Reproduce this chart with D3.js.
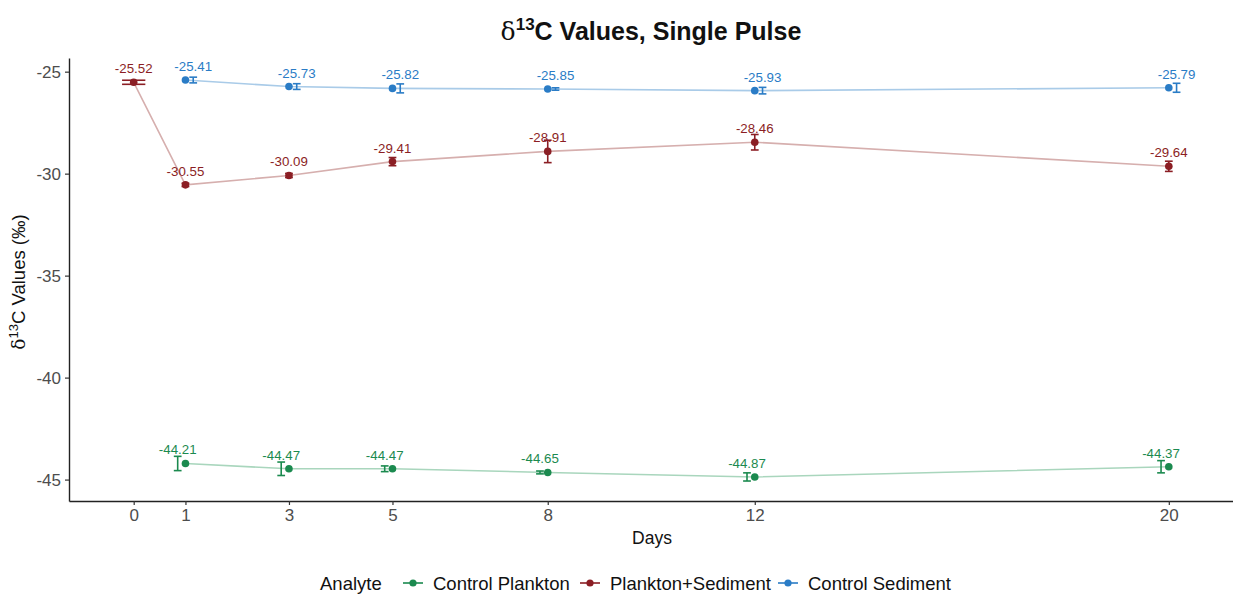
<!DOCTYPE html>
<html>
<head>
<meta charset="utf-8">
<script src="https://cdn.jsdelivr.net/npm/d3@7"></script>
<style>
  body { margin: 0; background: #fff; }
  svg { font-family: "Liberation Sans", Arial, sans-serif; }
</style>
</head>
<body>
<div id="chart"></div>
<script>
// Datos
const xTicks = [0, 1, 3, 5, 8, 12, 20]
const yTicks = [-25, -30, -35, -40, -45]

const analytes = ['Control Plankton', 'Plankton+Sediment', 'Control Sediment']

const plankton_days = [1, 3, 5, 8, 12, 20]
const plankton_mean = [-44.21, -44.47, -44.47, -44.65, -44.87, -44.37]
const plankton_sd = [0.35, 0.33, 0.14, 0.07, 0.2, 0.3]

const mix_days = [0, 1, 3, 5, 8, 12, 20]
const mix_mean = [-25.52, -30.55, -30.09, -29.41, -28.91, -28.46, -29.64]
const mix_sd = [0.1, 0.08, 0.1, 0.2, 0.55, 0.38, 0.25]

const sediment_days = [1, 3, 5, 8, 12, 20]
const sediment_mean = [-25.41, -25.73, -25.82, -25.85, -25.93, -25.79]
const sediment_sd = [0.14, 0.14, 0.22, 0.06, 0.16, 0.22]

const colors = { 'Control Plankton': '#1b8a4f', 'Plankton+Sediment': '#8b1e24', 'Control Sediment': '#2a7cc6' }
const lineColors = { 'Control Plankton': '#a9d6bd', 'Plankton+Sediment': '#d6afae', 'Control Sediment': '#a9cbe8' }

// Construye las series
const build = (name, days, mean, sd, group) => days.map((d, i) => ({ Name: name, Day: d, Mean: mean[i], Sd: sd[i], Group: group }))
const series = [
  build('Control Plankton', plankton_days, plankton_mean, plankton_sd, 0),
  build('Plankton+Sediment', mix_days, mix_mean, mix_sd, 1),
  build('Control Sediment', sediment_days, sediment_mean, sediment_sd, 2)
]

const width = 1233, height = 606
const svg = d3.select('#chart').append('svg').attr('width', width).attr('height', height)

const x = d3.scaleLinear().domain([-1.25, 21.25]).range([69, 1233.5])
const y = d3.scaleLinear().domain([-24.33, -46.05]).range([58, 501])

// Esquiva (dodge) de las barras de error: ancho total 0.45 días
const dodgeW = 0.45
const countAt = day => series.filter(s => s.some(d => d.Day == day)).length
const dodgeX = d => {
  const n = countAt(d.Day)
  if (n == 1) return x(d.Day)
  return x(d.Day + (d.Group - 1) * dodgeW / 3)
}
const capHalf = d => {
  const n = countAt(d.Day)
  return (x(dodgeW / n) - x(0)) / 2
}

// Ejes
const xAxis = svg.append('g')
  .attr('transform', `translate(0, ${y.range()[1]})`)
  .call(d3.axisBottom(x).tickValues(xTicks).tickSize(4).tickSizeOuter(0).tickPadding(4))
xAxis.select('.domain').attr('stroke', '#222').attr('stroke-width', 1.4)
xAxis.selectAll('.tick line').attr('stroke', '#333').attr('stroke-width', 1.2)
xAxis.selectAll('text').attr('fill', '#4d4d4d').attr('font-size', 17).attr('font-family', '"Liberation Sans", Arial, sans-serif')

const yAxis = svg.append('g')
  .attr('transform', `translate(${x.range()[0]}, 0)`)
  .call(d3.axisLeft(y).tickValues(yTicks).tickSize(4).tickSizeOuter(0).tickPadding(4).tickFormat(d => d))
yAxis.select('.domain').attr('stroke', '#222').attr('stroke-width', 1.4)
yAxis.selectAll('.tick line').attr('stroke', '#333').attr('stroke-width', 1.2)
yAxis.selectAll('text').attr('fill', '#4d4d4d').attr('font-size', 17).attr('font-family', '"Liberation Sans", Arial, sans-serif')

// Líneas
const line = d3.line().x(d => x(d.Day)).y(d => y(d.Mean))
svg.selectAll('path.series')
  .data(series)
  .enter()
  .append('path')
  .attr('class', 'series')
  .attr('d', line)
  .attr('fill', 'none')
  .attr('stroke', s => lineColors[s[0].Name])
  .attr('stroke-width', 1.6)

const all = series.flat()

// Barras de error
const err = svg.selectAll('g.err').data(all).enter().append('g').attr('class', 'err')
  .attr('stroke', d => colors[d.Name]).attr('stroke-width', 1.6)
err.append('line')
  .attr('x1', d => dodgeX(d)).attr('x2', d => dodgeX(d))
  .attr('y1', d => y(d.Mean + d.Sd)).attr('y2', d => y(d.Mean - d.Sd))
err.append('line')
  .attr('x1', d => dodgeX(d) - capHalf(d)).attr('x2', d => dodgeX(d) + capHalf(d))
  .attr('y1', d => y(d.Mean + d.Sd)).attr('y2', d => y(d.Mean + d.Sd))
err.append('line')
  .attr('x1', d => dodgeX(d) - capHalf(d)).attr('x2', d => dodgeX(d) + capHalf(d))
  .attr('y1', d => y(d.Mean - d.Sd)).attr('y2', d => y(d.Mean - d.Sd))

// Puntos
svg.selectAll('circle.pt').data(all).enter().append('circle')
  .attr('class', 'pt')
  .attr('cx', d => x(d.Day)).attr('cy', d => y(d.Mean))
  .attr('r', 3.8)
  .attr('fill', d => colors[d.Name])

// Etiquetas
svg.selectAll('text.lbl').data(all).enter().append('text')
  .attr('class', 'lbl')
  .attr('x', d => dodgeX(d))
  .attr('y', d => y(d.Mean) - 9)
  .attr('text-anchor', 'middle')
  .attr('font-size', 13.3)
  .attr('fill', d => colors[d.Name])
  .text(d => d.Mean.toFixed(2))

// Título
const title = svg.append('text')
  .attr('x', 651).attr('y', 40)
  .attr('text-anchor', 'middle')
  .attr('font-size', 25)
  .attr('font-weight', 'bold')
  .attr('fill', '#111')
title.append('tspan').text('δ').attr('font-family', '"DejaVu Serif", "Liberation Serif", serif').attr('font-weight', 'normal')
title.append('tspan').text('13').attr('font-size', 17).attr('dy', -10)
title.append('tspan').text('C Values, Single Pulse').attr('dy', 10)

// Títulos de ejes
svg.append('text')
  .attr('x', 652).attr('y', 544)
  .attr('text-anchor', 'middle')
  .attr('font-size', 17.5)
  .attr('fill', '#111')
  .text('Days')

const ylab = svg.append('text')
  .attr('transform', `translate(25, 282) rotate(-90)`)
  .attr('text-anchor', 'middle')
  .attr('font-size', 18.5)
  .attr('fill', '#111')
ylab.append('tspan').text('δ').attr('font-family', '"DejaVu Serif", "Liberation Serif", serif')
ylab.append('tspan').text('13').attr('font-size', 13).attr('dy', -7)
ylab.append('tspan').text('C Values (‰)').attr('dy', 7)

// Leyenda
const legend = svg.append('g').attr('transform', 'translate(0, 583)')
legend.append('text').attr('x', 320).attr('y', 6.5).attr('font-size', 18.5).attr('fill', '#111').text('Analyte')
const keyX = [403, 580, 778]
analytes.forEach((a, i) => {
  const k = legend.append('g').attr('transform', `translate(${keyX[i]}, 0)`)
  k.append('line').attr('x1', 0).attr('x2', 20).attr('stroke', colors[a]).attr('stroke-width', 1.6)
  k.append('circle').attr('cx', 10).attr('r', 3.6).attr('fill', colors[a])
  k.append('text').attr('x', 30).attr('y', 6.5).attr('font-size', 18.5).attr('fill', '#111').text(a)
})
</script>
</body>
</html>
